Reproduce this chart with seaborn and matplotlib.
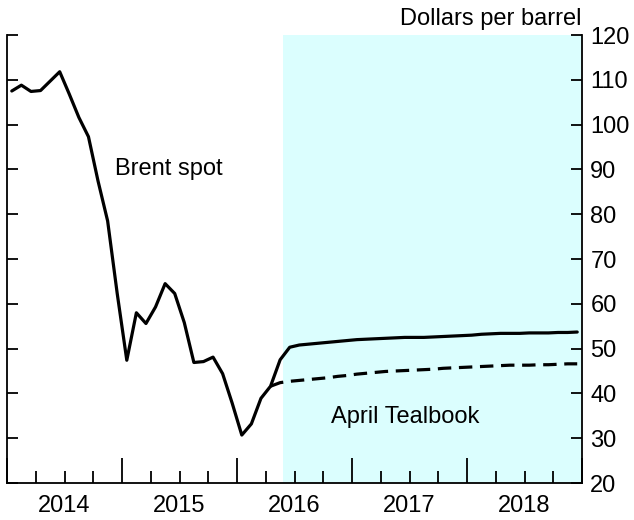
import numpy as np
import pandas as pd
import matplotlib
matplotlib.use("Agg")
import matplotlib.pyplot as plt
import matplotlib.transforms as mtransforms
import seaborn as sns

# Brent spot (monthly averages) through May 2016, then the futures-based path
spot_start = "2014-01"
spot_values = [
    107.5, 108.8, 107.4, 107.6, 109.7, 111.8, 106.8, 101.6, 97.3, 87.4, 78.5, 62.3,
    47.4, 58.0, 55.6, 59.3, 64.5, 62.3, 55.8, 46.9, 47.1, 48.1, 44.4, 37.8,
    30.7, 33.2, 38.9, 41.6, 47.5, 50.3, 50.8, 51.0, 51.2, 51.4, 51.6, 51.8,
    52.0, 52.1, 52.2, 52.3, 52.4, 52.5, 52.5, 52.5, 52.6, 52.7, 52.8, 52.9,
    53.0, 53.2, 53.3, 53.4, 53.4, 53.4, 53.5, 53.5, 53.5, 53.6, 53.6, 53.7,
]

# April Tealbook projection
tealbook_start = "2016-04"
tealbook_values = [
    41.6, 42.4, 42.7, 42.9, 43.1, 43.3, 43.5, 43.8, 44.0,
    44.3, 44.5, 44.7, 44.9, 45.0, 45.1, 45.2, 45.3, 45.4, 45.6, 45.7, 45.8,
    45.9, 46.0, 46.1, 46.2, 46.3, 46.3, 46.3, 46.4, 46.4, 46.5, 46.6, 46.6,
]

years = [2014, 2015, 2016, 2017, 2018]
y_ticks = [20, 30, 40, 50, 60, 70, 80, 90, 100, 110, 120]
forecast_start = 2016.4


def month_axis(start, n):
    p = pd.period_range(start, periods=n, freq="M")
    return p.year + (p.month - 0.5) / 12.0


spot = pd.DataFrame({"date": month_axis(spot_start, len(spot_values)),
                     "price": spot_values})
teal = pd.DataFrame({"date": month_axis(tealbook_start, len(tealbook_values)),
                     "price": tealbook_values})

sns.set_style("white")
plt.rcParams["font.family"] = ["Liberation Sans", "DejaVu Sans"]
plt.rcParams["text.color"] = "black"
plt.rcParams["xtick.color"] = "black"
plt.rcParams["ytick.color"] = "black"

FS = 17

fig = plt.figure(figsize=(6.34, 5.2), dpi=100)
ax = fig.add_axes([7 / 634, 37 / 520, 575 / 634, 448 / 520])

ax.axvspan(forecast_start, years[-1] + 1, color="#DBFEFE", lw=0, zorder=0)

sns.lineplot(data=spot, x="date", y="price", ax=ax, color="black", lw=2.3,
             zorder=3)
sns.lineplot(data=teal, x="date", y="price", ax=ax, color="black", lw=2.3,
             zorder=3, dashes=False, linestyle=(0, (4.2, 2.4)))

ax.set_xlim(years[0], years[-1] + 1)
ax.set_ylim(y_ticks[0], y_ticks[-1])
ax.set_xlabel("")
ax.set_ylabel("")

for side in ["left", "right", "bottom"]:
    ax.spines[side].set_visible(True)
    ax.spines[side].set_color("black")
    ax.spines[side].set_linewidth(1.3)
ax.spines["top"].set_visible(False)

# Y axis: ticks on both sides pointing inward, labels on the right
ax.set_yticks(y_ticks)
ax.set_yticks([y_ticks[-1]], minor=True)
ax.yaxis.set_ticks_position("both")
ax.tick_params(axis="y", which="major", direction="in", length=8, width=1.3,
               left=True, right=True, labelleft=False, labelright=True,
               labelsize=FS, pad=6, colors="black")
ax.tick_params(axis="y", which="minor", direction="in", length=15, width=1.3,
               left=True, right=True)

# X axis: long ticks at year boundaries, short ticks at quarters
ax.set_xticks(years + [years[-1] + 1])
ax.set_xticklabels([])
quarters = [y + q / 4 for y in years for q in (1, 2, 3)]
ax.set_xticks(quarters, minor=True)
ax.tick_params(axis="x", which="major", direction="in", length=18, width=1.3,
               bottom=True, top=False, colors="black")
ax.tick_params(axis="x", which="minor", direction="in", length=9, width=1.3,
               bottom=True, top=False)

trans = mtransforms.blended_transform_factory(ax.transData, ax.transAxes)
for yr in years:
    ax.text(yr + 0.5, -0.026, str(yr), transform=trans, ha="center", va="top",
            fontsize=FS, color="black")

ax.text(1.0, 1.012, "Dollars per barrel", transform=ax.transAxes, ha="right",
        va="bottom", fontsize=FS, color="black")
ax.text(2014.94, 90, "Brent spot", ha="left", va="center", fontsize=FS,
        color="black")
ax.text(2016.82, 34.8, "April Tealbook", ha="left", va="center", fontsize=FS,
        color="black")

fig.savefig("out.png", dpi=100)
